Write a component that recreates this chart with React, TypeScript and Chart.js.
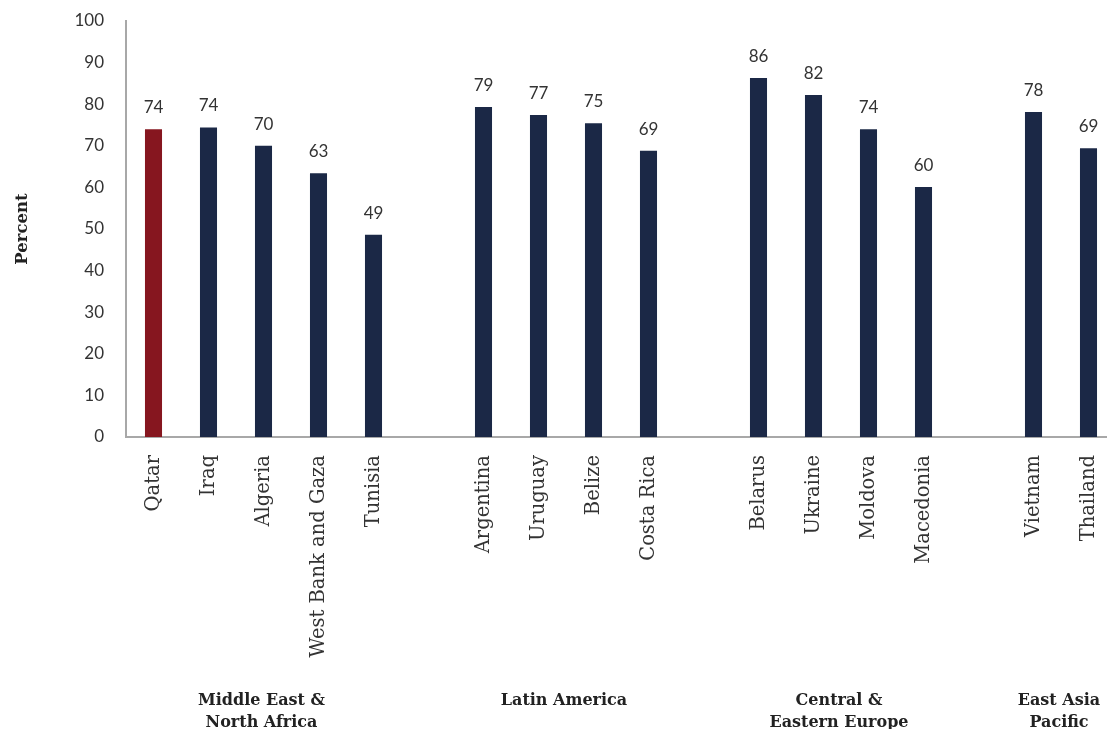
import React, { useEffect, useRef } from "react";
import { Chart, registerables } from "chart.js";

Chart.register(...registerables);

const categories = [
  "Qatar", "Iraq", "Algeria", "West Bank and Gaza", "Tunisia", "",
  "Argentina", "Uruguay", "Belize", "Costa Rica", "",
  "Belarus", "Ukraine", "Moldova", "Macedonia", "",
  "Vietnam", "Thailand",
];

const values: (number | null)[] = [
  74.0, 74.4, 70.0, 63.4, 48.6, null,
  79.3, 77.4, 75.4, 68.8, null,
  86.3, 82.2, 74.0, 60.1, null,
  78.1, 69.4,
];

const highlighted = ["Qatar"];

const groupLabels = [
  ["Middle East &", "North Africa"],
  ["Latin America"],
  ["Central &", "Eastern Europe"],
  ["East Asia", "Pacific"],
];
const groupRanges = [
  [0, 4],
  [6, 9],
  [11, 14],
  [16, 17],
];

const yTicks = { min: 0, max: 100, step: 10 };

const NAVY = "#1b2846";
const RED = "#86161f";
const SERIF = "'DejaVu Serif', serif";
const SANS = "Lato, 'Noto Sans', sans-serif";

const valueLabelPlugin = {
  id: "valueLabels",
  afterDatasetsDraw(chart: any) {
    const ctx = chart.ctx;
    const meta = chart.getDatasetMeta(0);
    ctx.save();
    ctx.font = `17px ${SANS}`;
    ctx.fillStyle = "#333333";
    ctx.textAlign = "center";
    ctx.textBaseline = "alphabetic";
    meta.data.forEach((el: any, i: number) => {
      const v = values[i];
      if (v === null || v === undefined) return;
      ctx.fillText(String(Math.round(v)), el.x, el.y - 16);
    });
    ctx.restore();
  },
};

const groupLabelPlugin = {
  id: "groupLabels",
  afterDraw(chart: any) {
    const ctx = chart.ctx;
    const xs = chart.scales.x;
    ctx.save();
    ctx.font = `bold 16px ${SERIF}`;
    ctx.fillStyle = "#222222";
    ctx.textAlign = "center";
    ctx.textBaseline = "middle";
    groupLabels.forEach((lines, gi) => {
      const [a, b] = groupRanges[gi];
      const cx = (xs.getPixelForValue(a) + xs.getPixelForValue(b)) / 2 - 2;
      lines.forEach((line, li) => {
        ctx.fillText(line, cx, 701 + li * 22);
      });
    });
    ctx.restore();
  },
};

export default function App() {
  const ref = useRef<HTMLCanvasElement>(null);
  useEffect(() => {
    if (!ref.current) return;
    const chart = new Chart(ref.current, {
      type: "bar",
      data: {
        labels: categories,
        datasets: [
          {
            data: values,
            backgroundColor: categories.map((c) => (highlighted.includes(c) ? RED : NAVY)),
            barPercentage: 0.31,
            categoryPercentage: 1,
          },
        ],
      },
      options: {
        responsive: false,
        animation: false,
        layout: { padding: { top: 21, right: 0, left: 0, bottom: 0 } },
        plugins: {
          legend: { display: false },
          tooltip: { enabled: false },
        },
        scales: {
          x: {
            offset: true,
            grid: { display: false, drawTicks: false },
            border: { display: true, color: "#a8a8a8", width: 2 },
            ticks: {
              autoSkip: false,
              maxRotation: 90,
              minRotation: 90,
              padding: 18,
              color: "#333333",
              font: { family: SERIF, size: 19.5 },
            },
            afterFit: (scale: any) => {
              scale.height = 729 - 437;
              scale.paddingLeft = 0;
              scale.paddingRight = 0;
            },
          },
          y: {
            min: yTicks.min,
            max: yTicks.max,
            grid: { display: false, drawTicks: false },
            border: { display: true, color: "#a8a8a8", width: 2 },
            ticks: {
              stepSize: yTicks.step,
              padding: 22,
              color: "#333333",
              font: { family: SANS, size: 17 },
            },
            title: {
              display: true,
              text: "Percent",
              color: "#222222",
              font: { family: SERIF, size: 16.5, weight: "bold" },
              padding: { top: 13, bottom: 0 },
            },
            afterFit: (scale: any) => {
              scale.width = 126;
              scale.paddingTop = 0;
              scale.paddingBottom = 0;
            },
          },
        },
      },
      plugins: [valueLabelPlugin, groupLabelPlugin],
    });
    return () => chart.destroy();
  }, []);

  return (
    <div
      style={{
        position: "fixed",
        left: 0,
        top: 0,
        width: 1107,
        height: 729,
        overflow: "hidden",
        background: "#ffffff",
      }}
    >
      <canvas ref={ref} width={1116} height={729} style={{ display: "block" }} />
    </div>
  );
}
